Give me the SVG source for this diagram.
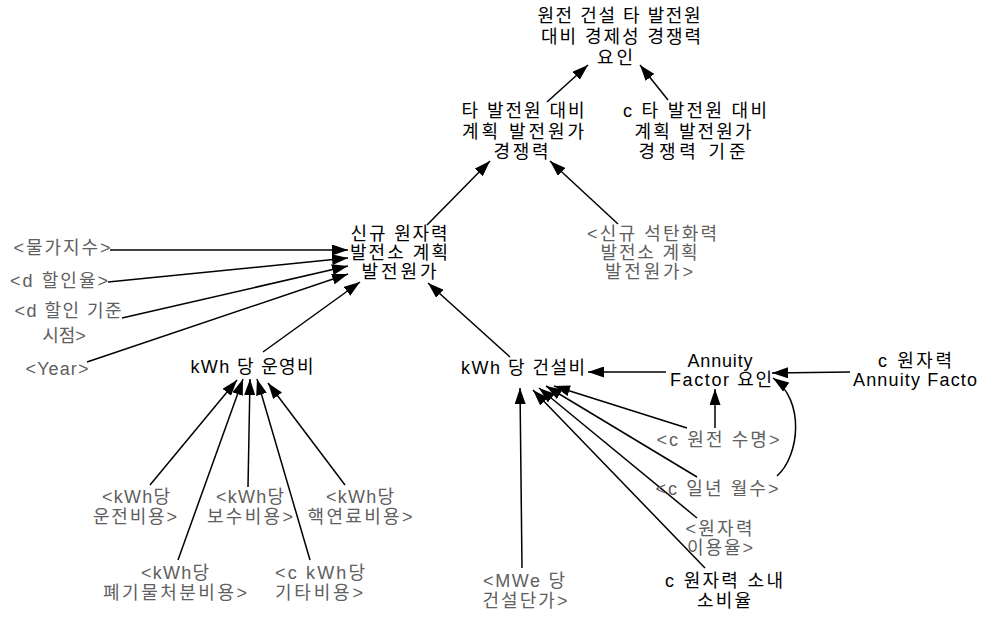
<svg xmlns="http://www.w3.org/2000/svg" width="982" height="617" viewBox="0 0 982 617">
<defs>
<style>
text{font-family:"Liberation Sans","Noto Sans CJK KR",sans-serif;font-size:18px;fill:#000;text-anchor:middle}
.s{fill:#606060}
.ln{stroke:#000;stroke-width:1.5;fill:none;marker-end:url(#ah)}
</style>
<marker id="ah" viewBox="0 0 16 11" refX="16" refY="5.5" markerWidth="16" markerHeight="11" markerUnits="userSpaceOnUse" orient="auto"><path d="M0,0 L16,5.5 L0,11 z" fill="#000"/></marker>
</defs>
<rect width="982" height="617" fill="#fff"/>
<g id="connectors">
<line class="ln" x1="547" y1="102" x2="588" y2="65"/>
<line class="ln" x1="668" y1="100" x2="640" y2="65"/>
<line class="ln" x1="427" y1="225" x2="490" y2="161"/>
<line class="ln" x1="618" y1="224" x2="550" y2="161"/>
<line class="ln" x1="110" y1="250" x2="348" y2="250"/>
<line class="ln" x1="108" y1="282" x2="348" y2="258"/>
<line class="ln" x1="122" y1="318" x2="348" y2="266"/>
<line class="ln" x1="87" y1="362" x2="348" y2="274"/>
<line class="ln" x1="263" y1="352" x2="360" y2="282"/>
<line class="ln" x1="510" y1="357" x2="428" y2="283"/>
<line class="ln" x1="150" y1="485" x2="237" y2="380"/>
<line class="ln" x1="178" y1="560" x2="243" y2="379"/>
<line class="ln" x1="248" y1="487" x2="250" y2="379"/>
<line class="ln" x1="310" y1="560" x2="257" y2="379"/>
<line class="ln" x1="345" y1="485" x2="268" y2="383"/>
<line class="ln" x1="666" y1="372" x2="588" y2="372"/>
<line class="ln" x1="850" y1="372" x2="772" y2="373"/>
<line class="ln" x1="715" y1="428" x2="715" y2="389"/>
<path class="ln" d="M777,476 C800,455 805,400 773,378"/>
<line class="ln" x1="522" y1="568" x2="520" y2="388"/>
<line class="ln" x1="687" y1="428" x2="554" y2="386"/>
<line class="ln" x1="697" y1="477" x2="546" y2="386"/>
<line class="ln" x1="697" y1="518" x2="539" y2="388"/>
<line class="ln" x1="705" y1="568" x2="533" y2="390"/>
</g>
<g id="n_title"><text x="619" y="22" textLength="163" lengthAdjust="spacing">원전 건설 타 발전원</text><text x="621" y="43" textLength="160" lengthAdjust="spacing">대비 경제성 경쟁력</text><text x="615" y="64" textLength="36" lengthAdjust="spacing">요인</text></g>
<g id="n_compet"><text x="523" y="117" textLength="123" lengthAdjust="spacing">타 발전원 대비</text><text x="523" y="138" textLength="122" lengthAdjust="spacing">계획 발전원가</text><text x="521" y="158" textLength="55" lengthAdjust="spacing">경쟁력</text></g>
<g id="n_cstd"><text x="695" y="117" textLength="144" lengthAdjust="spacing">c 타 발전원 대비</text><text x="693" y="138" textLength="117" lengthAdjust="spacing">계획 발전원가</text><text x="692" y="158" textLength="107" lengthAdjust="spacing">경쟁력 기준</text></g>
<g id="n_nuc"><text x="399" y="240" textLength="97" lengthAdjust="spacing">신규 원자력</text><text x="399" y="259" textLength="98" lengthAdjust="spacing">발전소 계획</text><text x="399" y="278" textLength="75" lengthAdjust="spacing">발전원가</text></g>
<g id="n_coal"><text class="s" x="652" y="240" textLength="130" lengthAdjust="spacing">&lt;신규 석탄화력</text><text class="s" x="649" y="259" textLength="97" lengthAdjust="spacing">발전소 계획</text><text class="s" x="649" y="278" textLength="88" lengthAdjust="spacing">발전원가&gt;</text></g>
<g id="n_cpi"><text class="s" x="62" y="254" textLength="97" lengthAdjust="spacing">&lt;물가지수&gt;</text></g>
<g id="n_disc"><text class="s" x="59" y="287" textLength="98" lengthAdjust="spacing">&lt;d 할인율&gt;</text></g>
<g id="n_discbase"><text class="s" x="68" y="317" textLength="107" lengthAdjust="spacing">&lt;d 할인 기준</text><text class="s" x="64" y="342">시점&gt;</text></g>
<g id="n_year"><text class="s" x="57" y="375" textLength="63" lengthAdjust="spacing">&lt;Year&gt;</text></g>
<g id="n_opex"><text x="252" y="373" textLength="123" lengthAdjust="spacing">kWh 당 운영비</text></g>
<g id="n_capex"><text x="523" y="374" textLength="124" lengthAdjust="spacing">kWh 당 건설비</text></g>
<g id="n_annuity"><text x="720" y="367" textLength="65" lengthAdjust="spacing">Annuity</text><text x="721" y="386" textLength="102" lengthAdjust="spacing">Factor 요인</text></g>
<g id="n_cannuity"><text x="915" y="367" textLength="74" lengthAdjust="spacing">c 원자력</text><text x="915" y="386" textLength="124" lengthAdjust="spacing">Annuity Facto</text></g>
<g id="n_life"><text class="s" x="718" y="446" textLength="123" lengthAdjust="spacing">&lt;c 원전 수명&gt;</text></g>
<g id="n_month"><text class="s" x="717" y="495" textLength="123" lengthAdjust="spacing">&lt;c 일년 월수&gt;</text></g>
<g id="n_util"><text class="s" x="719" y="535" textLength="67" lengthAdjust="spacing">&lt;원자력</text><text class="s" x="720" y="554" textLength="66" lengthAdjust="spacing">이용율&gt;</text></g>
<g id="n_selfuse"><text x="724" y="587" textLength="118" lengthAdjust="spacing">c 원자력 소내</text><text x="724" y="607" textLength="54" lengthAdjust="spacing">소비율</text></g>
<g id="n_mwe"><text class="s" x="524" y="587" textLength="82" lengthAdjust="spacing">&lt;MWe 당</text><text class="s" x="525" y="607" textLength="85" lengthAdjust="spacing">건설단가&gt;</text></g>
<g id="n_op"><text class="s" x="136" y="503" textLength="68" lengthAdjust="spacing">&lt;kWh당</text><text class="s" x="135" y="523" textLength="84" lengthAdjust="spacing">운전비용&gt;</text></g>
<g id="n_maint"><text class="s" x="250" y="503" textLength="68" lengthAdjust="spacing">&lt;kWh당</text><text class="s" x="250" y="523" textLength="86" lengthAdjust="spacing">보수비용&gt;</text></g>
<g id="n_fuel"><text class="s" x="360" y="503" textLength="68" lengthAdjust="spacing">&lt;kWh당</text><text class="s" x="360" y="523" textLength="105" lengthAdjust="spacing">핵연료비용&gt;</text></g>
<g id="n_waste"><text class="s" x="175" y="579" textLength="68" lengthAdjust="spacing">&lt;kWh당</text><text class="s" x="175" y="599" textLength="144" lengthAdjust="spacing">폐기물처분비용&gt;</text></g>
<g id="n_other"><text class="s" x="320" y="579" textLength="90" lengthAdjust="spacing">&lt;c kWh당</text><text class="s" x="319" y="599" textLength="88" lengthAdjust="spacing">기타비용&gt;</text></g>
</svg>
